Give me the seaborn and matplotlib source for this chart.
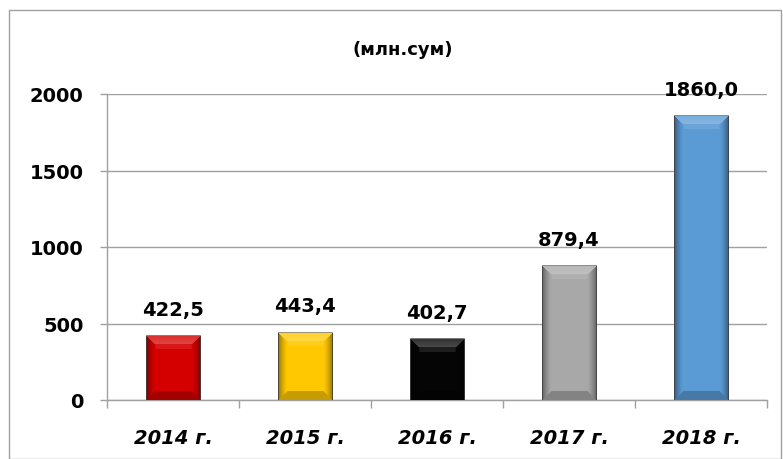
import numpy as np
import pandas as pd
import matplotlib
matplotlib.use("Agg")
import matplotlib.pyplot as plt
import seaborn as sns
from matplotlib.patches import Rectangle

years = ["2014 г.", "2015 г.", "2016 г.", "2017 г.", "2018 г."]
values = [422.5, 443.4, 402.7, 879.4, 1860.0]
labels = ["422,5", "443,4", "402,7", "879,4", "1860,0"]
colors = ["#d40000", "#ffc800", "#050505", "#a8a8a8", "#5b9bd5"]
yticks = [0, 500, 1000, 1500, 2000]
title = "(млн.сум)"

sns.set_theme(style="white")
plt.rcParams["font.family"] = ["DejaVu Sans"]
plt.rcParams["text.color"] = "black"
plt.rcParams["xtick.color"] = "black"
plt.rcParams["ytick.color"] = "black"

fig = plt.figure(figsize=(7.83, 4.6), dpi=100)
ax = fig.add_axes([107/783, 1-401/460, 660/783, 306/460])

df = pd.DataFrame({"year": years, "value": values})
sns.barplot(data=df, x="year", y="value", hue="year", palette=colors,
            legend=False, width=0.41, ax=ax, saturation=1, zorder=3)

ax.set_ylim(0, 2000)
ax.set_xlim(-0.5, 4.5)
ax.set_yticks(yticks)
ax.set_yticklabels([str(t) for t in yticks], fontsize=14, fontweight="bold", color="black")
ax.set_xticks(range(len(years)))
ax.set_xticklabels(years, fontsize=14, fontweight="bold", fontstyle="italic", color="black")
ax.set_xlabel("")
ax.set_ylabel("")
ax.set_xticks(np.arange(-0.5, 5, 1), minor=True)
ax.tick_params(axis="x", which="major", length=0, pad=20)
ax.tick_params(axis="x", which="minor", length=6, color="#a0a0a0", width=1, bottom=True)
ax.tick_params(axis="y", length=5, color="#a0a0a0", width=1, left=True, pad=12)
ax.grid(axis="y", color="#a0a0a0", linewidth=1, zorder=0)
for s in ["top", "right"]:
    ax.spines[s].set_visible(False)
for s in ["left", "bottom"]:
    ax.spines[s].set_color("#a0a0a0")
    ax.spines[s].set_linewidth(1)

# bevel-like shading on bars
px_per_y = 306 / 2000
px_per_x = 660 / 5
for p in ax.patches:
    x0, y0 = p.get_x(), p.get_y()
    w, h = p.get_width(), p.get_height()
    nx = max(int(round(w * px_per_x)), 2)
    ny = max(int(round(h * px_per_y)), 2)
    jj, ii = np.meshgrid(np.arange(nx), np.arange(ny))
    dl, dr, dt, db = jj, nx - 1 - jj, ii, ny - 1 - ii
    b = 9.0
    img = np.zeros((ny, nx, 4))
    dside = np.minimum(dl, dr)
    top = (dt < b) & (dt <= dside)
    bot = (db < b) & (db < dside) & ~top
    side = (dside < b) & ~top & ~bot
    img[top, :3] = 1.0
    img[top, 3] = 0.18 + 0.10 * (dt[top] / b)
    img[side, :3] = 0.0
    img[side, 3] = 0.40 * (1 - dside[side] / b) ** 1.5
    img[bot, :3] = 0.0
    img[bot, 3] = 0.22
    hl = (dt >= b) & (dt < b + 5) & (dside >= b)
    img[hl, :3] = 1.0
    img[hl, 3] = 0.10
    im = ax.imshow(img, extent=[x0, x0 + w, y0, y0 + h], aspect="auto",
                   origin="upper", zorder=4, interpolation="bilinear")
    im.set_clip_path(p)
    p.set_edgecolor("#505050")
    p.set_linewidth(0.5)

for i, (v, lab) in enumerate(zip(values, labels)):
    ax.annotate(lab, (i, v), xytext=(0, 12), textcoords="offset points",
                ha="center", va="bottom", fontsize=14, fontweight="bold",
                color="black", zorder=5)

fig.text(403 / 783, 1 - 50/460, title, ha="center", va="center",
         fontsize=13, fontweight="bold", color="black")

fig.patches.append(Rectangle((9/783, 0), 772/783, 1 - 11/460, transform=fig.transFigure,
                             fill=False, edgecolor="#a0a0a0", linewidth=1))

fig.savefig("out.png", dpi=100)
